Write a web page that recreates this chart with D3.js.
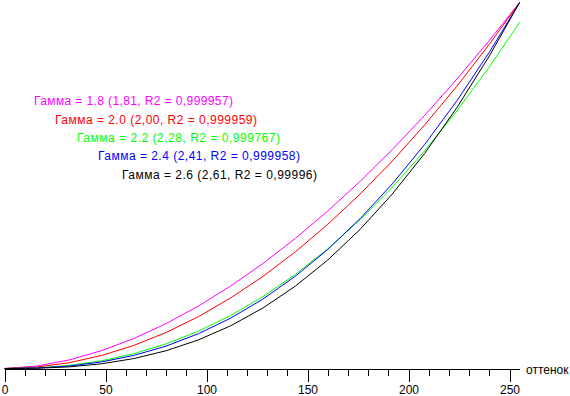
<!DOCTYPE html>
<html>
<head>
<meta charset="utf-8">
<script src="https://cdn.jsdelivr.net/npm/d3@7"></script>
<style>
  body { margin: 0; background: #fff; }
  svg { display: block; font-family: "Liberation Sans", Arial, sans-serif; }
</style>
</head>
<body>
<div id="chart"></div>
<script>
// shade levels where brightness was measured
const shades = [0, 16, 32, 48, 64, 80, 96, 112, 128, 144, 160, 176, 192, 208, 224, 240, 255];

// relative brightness
const gamma18 = [0, 0.0067, 0.0234, 0.0487, 0.0819, 0.1227, 0.1706, 0.2255, 0.2872, 0.3555, 0.4301, 0.5111, 0.5983, 0.6917, 0.7909, 0.8961, 1];
const gamma20 = [0, 0.0039, 0.0158, 0.0354, 0.063, 0.0984, 0.1417, 0.1929, 0.252, 0.3189, 0.3937, 0.4764, 0.5669, 0.6654, 0.7716, 0.8858, 1];
const gamma22 = [0, 0.0017, 0.0083, 0.021, 0.0405, 0.0673, 0.102, 0.1449, 0.1966, 0.2571, 0.3268, 0.4062, 0.4953, 0.5946, 0.704, 0.8239, 0.946];
const gamma24 = [0, 0.0013, 0.0067, 0.0179, 0.0357, 0.0612, 0.095, 0.1377, 0.1899, 0.2523, 0.3252, 0.4092, 0.5046, 0.6121, 0.7318, 0.8641, 1];
const gamma26 = [0, 0.0007, 0.0044, 0.0128, 0.0271, 0.0485, 0.0781, 0.1168, 0.1655, 0.2251, 0.2963, 0.3799, 0.4768, 0.5876, 0.713, 0.8537, 1];

const seriesNames = [
  "Гамма = 1.8 (1,81, R2 = 0,999957)",
  "Гамма = 2.0 (2,00, R2 = 0,999959)",
  "Гамма = 2.2 (2,28, R2 = 0,999767)",
  "Гамма = 2.4 (2,41, R2 = 0,999958)",
  "Гамма = 2.6 (2,61, R2 = 0,99996)"
];
const seriesColors = ["#ff00ff", "#ff0000", "#00ff00", "#0000ff", "#000000"];
const xTickLabels = [0, 50, 100, 150, 200, 250];
const xAxisTitle = "оттенок";

const series = [gamma18, gamma20, gamma22, gamma24, gamma26].map((vals, i) => ({
  name: seriesNames[i],
  color: seriesColors[i],
  points: vals.map((v, j) => ({ x: shades[j], y: v }))
}));

const width = 570, height = 396;
const svg = d3.select("#chart").append("svg").attr("width", width).attr("height", height);

const x = d3.scaleLinear().domain([0, 250]).range([4.5, 509.5]);
const y = d3.scaleLinear().domain([0, 1]).range([368.5, 2.5]);

// axis
const xAxis = d3.axisBottom(x)
  .tickValues(d3.range(0, 256, 10))
  .tickSize(6)
  .tickSizeOuter(0)
  .tickFormat(d => xTickLabels.includes(d) ? d : "");

const axisG = svg.append("g")
  .attr("transform", "translate(0,369.5)")
  .call(xAxis);
axisG.select(".domain").attr("d", `M${x(0)},0H${x(255)}`).attr("stroke", "#000").attr("shape-rendering", "crispEdges");
axisG.selectAll(".tick line").attr("stroke", "#000").attr("shape-rendering", "crispEdges")
  .attr("y2", d => d % 50 === 0 ? 12 : 6);
axisG.selectAll(".tick text")
  .attr("y", 16)
  .attr("font-size", 12)
  .attr("font-family", "Liberation Sans, Arial, sans-serif")
  .attr("fill", "#000");

svg.append("text")
  .attr("x", 526)
  .attr("y", 373.5)
  .attr("font-size", 12)
  .attr("fill", "#000")
  .text(xAxisTitle);

// curves
const line = d3.line().x(d => x(d.x)).y(d => y(d.y));
svg.append("g")
  .selectAll("path")
  .data(series)
  .enter()
  .append("path")
  .attr("d", d => line(d.points))
  .attr("fill", "none")
  .attr("stroke", d => d.color)
  .attr("stroke-width", 1);

// legend labels (position and width as in the original bitmap font)
const labelPos = [[34, 105, 199], [55, 124, 202], [77, 142, 203], [98, 160, 202], [122, 179, 195]];
svg.append("g")
  .selectAll("text")
  .data(series)
  .enter()
  .append("text")
  .attr("x", (d, i) => labelPos[i][0])
  .attr("y", (d, i) => labelPos[i][1])
  .attr("font-size", 12)
  .attr("textLength", (d, i) => labelPos[i][2])
  .attr("lengthAdjust", "spacing")
  .attr("fill", d => d.color)
  .text(d => d.name);
</script>
</body>
</html>
